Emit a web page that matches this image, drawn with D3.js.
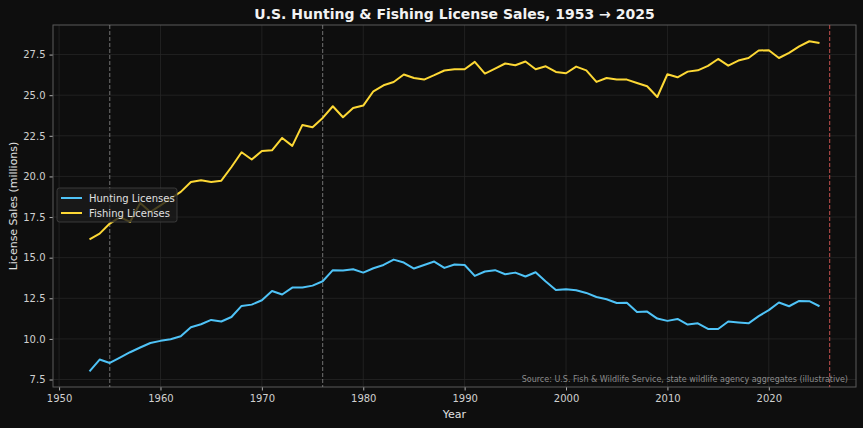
<!DOCTYPE html>
<html>
<head>
<meta charset="utf-8">
<script src="https://cdn.jsdelivr.net/npm/d3@7"></script>
<style>
  html, body { margin: 0; padding: 0; background: #0e0e0e; }
  svg { display: block; font-family: "DejaVu Sans", sans-serif; }
</style>
</head>
<body>
<div id="chart"></div>
<script>
// data (millions of licenses)
const years = d3.range(1953, 2026);
const hunting = [
  8.0, 8.73, 8.52, 8.85, 9.18, 9.47, 9.75, 9.88, 9.98, 10.16,
  10.72, 10.9, 11.17, 11.07, 11.35, 12.03, 12.11, 12.38, 12.95, 12.73,
  13.16, 13.16, 13.28, 13.55, 14.23, 14.21, 14.29, 14.08, 14.35, 14.55,
  14.88, 14.7, 14.33, 14.55, 14.76, 14.37, 14.58, 14.55, 13.88, 14.15,
  14.23, 13.98, 14.08, 13.84, 14.1, 13.53, 13.01, 13.06, 13.0, 12.83,
  12.58, 12.44, 12.21, 12.23, 11.66, 11.68, 11.25, 11.11, 11.23, 10.88,
  10.96, 10.61, 10.61, 11.07, 11.01, 10.96, 11.4, 11.77, 12.24, 12.01,
  12.34, 12.32, 12.01
];
const fishing = [
  16.13, 16.48, 17.1, 17.5, 17.2, 18.37, 17.81, 18.22, 18.64, 19.05,
  19.66, 19.76, 19.66, 19.74, 20.58, 21.49, 21.04, 21.57, 21.61, 22.37,
  21.88, 23.17, 23.03, 23.6, 24.32, 23.64, 24.21, 24.36, 25.24, 25.61,
  25.81, 26.27, 26.06, 25.96, 26.23, 26.52, 26.6, 26.6, 27.05, 26.33,
  26.64, 26.95, 26.84, 27.07, 26.6, 26.78, 26.43, 26.35, 26.76, 26.53,
  25.82, 26.06, 25.96, 25.96, 25.75, 25.55, 24.89, 26.29, 26.1, 26.45,
  26.53, 26.8, 27.23, 26.82, 27.13, 27.29, 27.75, 27.77, 27.29, 27.6,
  28.0, 28.32, 28.21
];
const xTicks = [1950, 1960, 1970, 1980, 1990, 2000, 2010, 2020];
const yTicks = [7.5, 10.0, 12.5, 15.0, 17.5, 20.0, 22.5, 25.0, 27.5];
const markerYears = [1955, 1976];
const projectionYear = 2026;

const seriesList = [
  { name: "Hunting Licenses", values: hunting, color: "#4fc3f7" },
  { name: "Fishing Licenses", values: fishing, color: "#fdd835" }
];

const width = 863, height = 428;
const margin = { top: 25, right: 7, bottom: 41, left: 53 };
const innerW = width - margin.left - margin.right;
const innerH = height - margin.top - margin.bottom;

const svg = d3.select("#chart").append("svg")
  .attr("width", width)
  .attr("height", height);

svg.append("rect").attr("width", width).attr("height", height).attr("fill", "#0e0e0e");

const g = svg.append("g").attr("transform", `translate(${margin.left},${margin.top})`);

const x = d3.scaleLinear().domain([1949.4, 2028.6]).range([0, innerW]);
const y = d3.scaleLinear().domain([7.04, 29.32]).range([innerH, 0]);

// grid
g.append("g").selectAll("line").data(xTicks).join("line")
  .attr("x1", d => x(d)).attr("x2", d => x(d))
  .attr("y1", 0).attr("y2", innerH)
  .attr("stroke", "#262626").attr("stroke-width", 0.8);
g.append("g").selectAll("line").data(yTicks).join("line")
  .attr("x1", 0).attr("x2", innerW)
  .attr("y1", d => y(d)).attr("y2", d => y(d))
  .attr("stroke", "#262626").attr("stroke-width", 0.8);

// axes
const xAxis = g.append("g")
  .attr("transform", `translate(0,${innerH})`)
  .call(d3.axisBottom(x).tickValues(xTicks).tickFormat(d3.format("d")).tickSize(3.5).tickPadding(4));
const yAxis = g.append("g")
  .call(d3.axisLeft(y).tickValues(yTicks).tickFormat(d3.format(".1f")).tickSize(3.5).tickPadding(4));

[xAxis, yAxis].forEach(a => {
  a.select(".domain").remove();
  a.selectAll(".tick line").attr("stroke", "#b0b0b0");
  a.selectAll("text")
    .attr("fill", "#d0d0d0")
    .attr("font-size", "10px")
    .attr("font-family", "DejaVu Sans, sans-serif");
});

// frame
g.append("rect")
  .attr("width", innerW).attr("height", innerH)
  .attr("fill", "none").attr("stroke", "#5a5a5a").attr("stroke-width", 1);

// event markers
g.selectAll(".marker").data(markerYears).join("line")
  .attr("class", "marker")
  .attr("x1", d => x(d)).attr("x2", d => x(d))
  .attr("y1", 0).attr("y2", innerH)
  .attr("stroke", "#8a8a8a").attr("stroke-width", 1)
  .attr("stroke-dasharray", "4,2").attr("opacity", 0.8);

g.append("line")
  .attr("x1", x(projectionYear)).attr("x2", x(projectionYear))
  .attr("y1", 0).attr("y2", innerH)
  .attr("stroke", "#c0504d").attr("stroke-width", 1.2)
  .attr("stroke-dasharray", "4,2").attr("opacity", 0.85);

// lines
const line = d3.line()
  .x((d, i) => x(years[i]))
  .y(d => y(d));

seriesList.forEach(s => {
  g.append("path")
    .datum(s.values)
    .attr("fill", "none")
    .attr("stroke", s.color)
    .attr("stroke-width", 2)
    .attr("stroke-linejoin", "round")
    .attr("d", line);
});

// source note
g.append("text")
  .attr("x", innerW - 8).attr("y", innerH - 5)
  .attr("text-anchor", "end")
  .attr("fill", "#8c8c8c")
  .attr("font-size", "8px")
  .text("Source: U.S. Fish & Wildlife Service, state wildlife agency aggregates (illustrative)");

// legend
const legend = g.append("g").attr("transform", "translate(4,163)");
legend.append("rect")
  .attr("width", 120).attr("height", 34).attr("rx", 2.5)
  .attr("fill", "#1c1c1c").attr("fill-opacity", 0.8)
  .attr("stroke", "#444").attr("stroke-width", 0.8);
seriesList.forEach((s, i) => {
  const row = legend.append("g").attr("transform", `translate(0,${10 + i * 15})`);
  row.append("line").attr("x1", 4).attr("x2", 25).attr("stroke", s.color).attr("stroke-width", 2);
  row.append("text").attr("x", 32).attr("dy", "0.35em")
    .attr("fill", "#e0e0e0").attr("font-size", "10px").text(s.name);
});

// titles
svg.append("text")
  .attr("x", margin.left + innerW / 2).attr("y", 19)
  .attr("text-anchor", "middle")
  .attr("fill", "#f2f2f2")
  .attr("font-size", "14px").attr("font-weight", "bold")
  .text("U.S. Hunting & Fishing License Sales, 1953 → 2025");

svg.append("text")
  .attr("x", margin.left + innerW / 2).attr("y", 418)
  .attr("text-anchor", "middle")
  .attr("fill", "#e0e0e0").attr("font-size", "11px")
  .text("Year");

svg.append("text")
  .attr("transform", `translate(17,${margin.top + innerH / 2}) rotate(-90)`)
  .attr("text-anchor", "middle")
  .attr("fill", "#e0e0e0").attr("font-size", "11px")
  .text("License Sales (millions)");
</script>
</body>
</html>
